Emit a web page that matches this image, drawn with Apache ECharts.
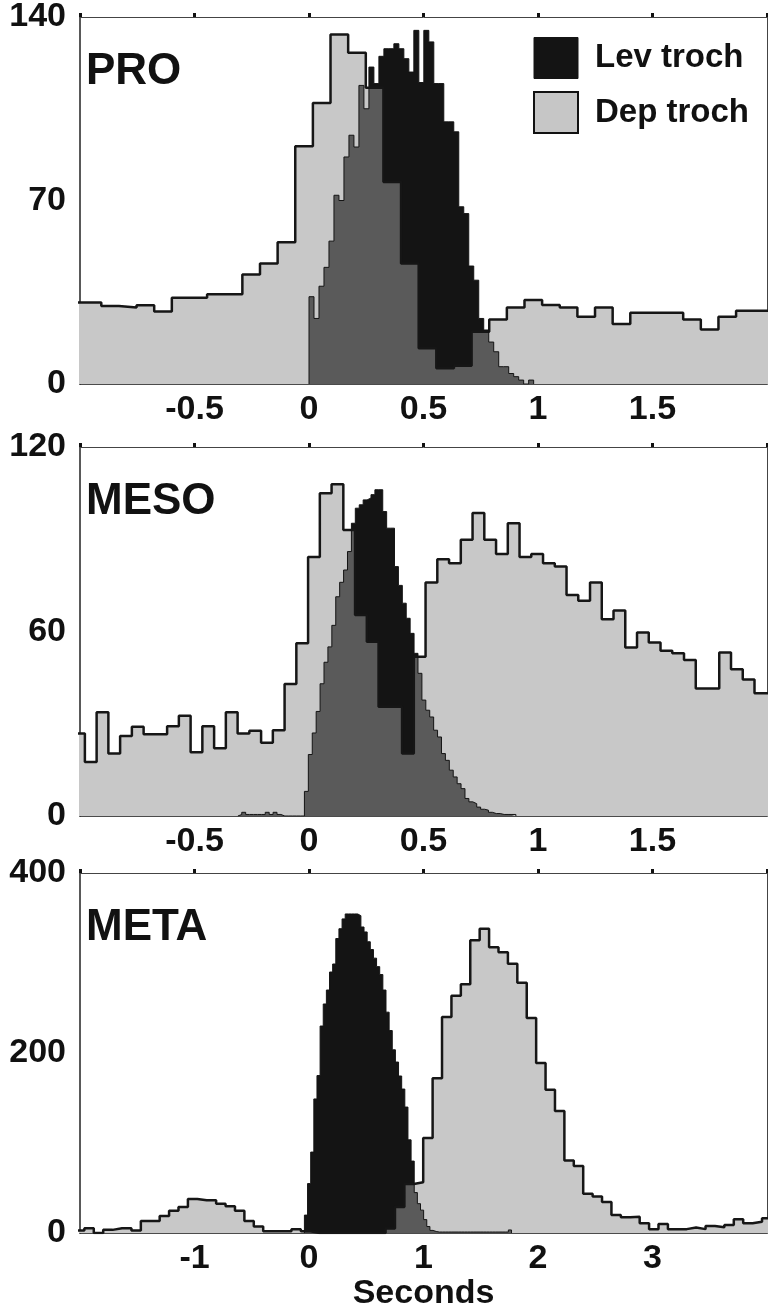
<!DOCTYPE html>
<html>
<head>
<meta charset="utf-8">
<script src="https://cdn.jsdelivr.net/npm/echarts@6/dist/echarts.min.js"></script>
<style>
  html, body { margin: 0; padding: 0; background: #fff; }
  #chart { width: 768px; height: 1312px; }
</style>
</head>
<body>
<div id="chart"></div>
<script>
// Histogram data (counts per bin); each series: bin start (s), bin width (s), counts
const proDepStart = -1.061, proDepWidth = 0.077;
const proDep = [31.1, 31.1, 29.8, 29.2, 30.0, 27.7, 32.9, 32.9, 34.2, 34.2, 41.8, 46.0, 54.1, 90.7, 107.2, 133.3, 126.4, 113, 77.1, 46.0,
  13.6, 6.0, 7.0, 19.9, 24.6, 29.2, 32.0, 30.1, 29.2, 25.7, 29.2, 22.9, 27.2, 27.2, 27.2, 24.6, 20.8, 25.7, 27.9, 27.9];
const proLevStart = 0, proLevWidth = 0.0218;
const proLev = [33.3, 25, 37.3, 44.5, 54.5, 72, 70, 86.6, 94.9, 90.4, 113.9, 105, 120.9, 114.6, 125, 127.9, 127.9, 129.8, 127.9, 124.1,
  119, 134.9, 115, 134.9, 130.5, 114.6, 114.6, 100, 100, 96.2, 67.6, 65, 45, 39.6, 25, 20.6, 16, 12.3, 6.6, 6.6,
  4, 2.8, 1.5, 0, 1.5];

const mesoDepStart = -1.03, mesoDepWidth = 0.0513;
const mesoDep = [26.8, 17.6, 33.7, 20.3, 26.0, 29.0, 26.6, 26.6, 29.2, 32.6, 20.7, 29.2, 22.0, 33.7, 26.8, 27.7, 23.8, 27.9, 42.9, 56.2,
  84.2, 105, 107.9, 93, 65.4, 56.7, 35.5, 35.5, 20.3, 51.8, 75.9, 83.5, 82.2, 89.8, 98.5, 89.8, 85.2, 95.2, 84.2, 85.2,
  82.2, 81.1, 71.9, 70.0, 75.9, 64.0, 66.8, 54.8, 59.7, 56.4, 53.7, 52.9, 50.7, 41.5, 41.5, 53.2, 47.7, 44.4, 39.9, 39.9];
const mesoLevStart = -0.3107, mesoLevWidth = 0.0171;
const mesoLev = [0.5, 1.2, 0.5, 0.5, 0.5, 0.5, 0.5, 1.2, 0.5, 1.2, 0.5, 0, 0, 0, 0, 0, 0,
  8, 20, 27, 34, 43, 50, 55, 62, 71.3, 76, 80, 86, 95.2, 100.1, 101.2, 102.8, 103.4, 104.5, 106.1, 106.1,
  99.0, 93.6, 93.6, 81.1, 75, 69.2, 64.3, 59.4, 52.9, 46.4, 37.7, 34.4, 32.2, 27.9, 25.7, 20.3, 18.1, 14.9, 12.7, 10.5,
  8.9, 5.7, 4.6, 4.0, 2.9, 2.2, 1.9, 1.2, 0.8, 0.8, 0.5, 0.5, 0.5, 0.5];

const metaDepStart = -2.044, metaDepWidth = 0.0822;
const metaDep = [2.9, 5.5, 0, 3.6, 5.5, 5.5, 2.9, 13.4, 13.4, 18.9, 24.7, 29.1, 37.8, 36.4, 36.4, 32.7, 29.8, 24.7, 13.4, 7.3,
  2, 2, 2, 4.4, 2, 0, 0, 0, 0, 0, 0, 0, 0, 5, 29.1, 54.5, 56.4, 105.5, 172, 240,
  263.6, 276.3, 325.4, 338.1, 317.4, 312, 299.2, 278.1, 238.9, 189, 159.2, 135.6, 80.7, 74.5, 43.6, 40.7, 34.6, 20.0, 17.5, 18.2,
  10.9, 4.4, 10.2, 4.4, 4.4, 6.2, 4.4, 7.8, 6.5, 9.1, 15.3, 10.9, 12.7, 16.4];
const metaLevStart = -0.04, metaLevWidth = 0.0274;
const metaLev = [20, 55, 90, 149, 175, 230, 254.5, 270, 290, 298.9, 327.2, 338.1, 349, 354.5, 354.5, 354.5, 354.5, 352.6, 340, 334.5,
  323.6, 315, 305.4, 296, 287.2, 270, 245.4, 225, 203.6, 190, 174.5, 160, 140, 103.6, 80, 45, 32.7, 25.5, 15, 7.3,
  3, 1.8, 1.2, 1.2, 1.2, 1.2, 1.2, 1.2, 1.2, 1.2, 1.2, 1.2, 1.2, 1.2, 1.2, 1.2, 1.2, 1.2, 1.2, 1.2, 1.2, 1.2, 1.2, 1.2, 1.2, 3.5];

const panelNames = ["PRO", "MESO", "META"];
const xRanges = [[-1, 2, 0.5], [-1, 2, 0.5], [-2, 4, 1]];
const yRanges = [[140, 70], [120, 60], [400, 200]];

// Chart Functionalities
const FONT = "Liberation Sans";
const INK = "#141414";

function steps(start, width, counts) {
  const pts = [[start, 0]];
  counts.forEach((c, i) => pts.push([start + i * width, c]));
  const end = start + counts.length * width;
  pts.push([end, counts[counts.length - 1]], [end, 0]);
  return pts;
}

function panelSeries(i, dep, lev) {
  const base = {
    type: "line", step: "end", symbol: "none", silent: true,
    xAxisIndex: i * 2, yAxisIndex: i * 2,
  };
  return [
    { ...base, name: "Dep troch", data: dep, lineStyle: { opacity: 0 }, areaStyle: { color: "#b0b0b0", opacity: 1 }, z: 1 },
    { ...base, name: "Lev troch", data: lev, lineStyle: { opacity: 0 }, areaStyle: { color: INK, opacity: 1 }, z: 2 },
    { ...base, name: "Dep troch", data: dep, lineStyle: { color: "#161616", width: 2.5 }, areaStyle: { color: "#ffffff", opacity: 0.3 }, z: 3 },
    { ...base, name: "Lev troch", data: lev, lineStyle: { color: INK, width: 1 }, z: 4 },
  ];
}

const gridTops = [17, 447, 873];
const gridHeights = [367, 369, 367];

const labelStyle = { fontFamily: FONT, fontWeight: "bold", fontSize: 34, color: "#111" };

const grids = [], xAxes = [], yAxes = [];
for (let i = 0; i < 3; i++) {
  grids.push({ left: 80, right: 1, top: gridTops[i], height: gridHeights[i] });
  const [xmin, xmax, xint] = xRanges[i];
  xAxes.push({
    type: "value", gridIndex: i, min: xmin, max: xmax, interval: xint, position: "bottom",
    axisLine: { show: true, onZero: false, lineStyle: { color: "#111", width: 1.5 } },
    axisTick: { show: false },
    splitLine: { show: false },
    axisLabel: { ...labelStyle, margin: 9, showMinLabel: false, showMaxLabel: false },
    name: i === 2 ? "Seconds" : "",
    nameLocation: "middle",
    nameGap: 42,
    nameTextStyle: { fontFamily: FONT, fontWeight: "bold", fontSize: 34, color: "#111" },
  });
  // top frame with short tick marks
  xAxes.push({
    type: "value", gridIndex: i, min: xmin, max: xmax, interval: xint, position: "top",
    axisLine: { show: true, onZero: false, lineStyle: { color: "#444", width: 1 } },
    axisTick: { show: true, inside: false, length: 4, lineStyle: { color: "#111", width: 3 } },
    axisLabel: { show: false },
    splitLine: { show: false },
  });
  const [ymax, yint] = yRanges[i];
  yAxes.push({
    type: "value", gridIndex: i, min: 0, max: ymax, interval: yint, position: "left",
    axisLine: { show: true, onZero: false, lineStyle: { color: "#222", width: 1.5 } },
    axisTick: { show: false },
    splitLine: { show: false },
    axisLabel: { ...labelStyle, margin: 14 },
  });
  yAxes.push({
    type: "value", gridIndex: i, min: 0, max: ymax, position: "right",
    axisLine: { show: true, onZero: false, lineStyle: { color: "#444", width: 1 } },
    axisTick: { show: false },
    splitLine: { show: false },
    axisLabel: { show: false },
  });
}

const series = [
  ...panelSeries(0, steps(proDepStart, proDepWidth, proDep), steps(proLevStart, proLevWidth, proLev)),
  ...panelSeries(1, steps(mesoDepStart, mesoDepWidth, mesoDep), steps(mesoLevStart, mesoLevWidth, mesoLev)),
  ...panelSeries(2, steps(metaDepStart, metaDepWidth, metaDep), steps(metaLevStart, metaLevWidth, metaLev)),
];

const chart = echarts.init(document.getElementById("chart"), null, { renderer: "canvas" });

chart.setOption({
  animation: false,
  backgroundColor: "#ffffff",
  grid: grids,
  xAxis: xAxes,
  yAxis: yAxes,
  legend: {
    left: 533, top: 37, orient: "vertical", padding: 0,
    itemWidth: 44, itemHeight: 41, itemGap: 12, icon: "rect",
    selectedMode: false,
    textStyle: { fontFamily: FONT, fontWeight: "bold", fontSize: 33, color: "#111", padding: [0, 0, 0, 12] },
    data: [
      { name: "Lev troch", itemStyle: { color: INK, borderColor: INK, borderWidth: 1 } },
      { name: "Dep troch", itemStyle: { color: "#c6c6c6", borderColor: "#111", borderWidth: 2 } },
    ],
  },
  graphic: panelNames.map((name, i) => ({
    type: "text", left: 86, top: gridTops[i] + 33,
    style: { text: name, font: "bold 44px 'Liberation Sans'", fill: "#111" },
  })),
  series: series,
});
</script>
</body>
</html>
